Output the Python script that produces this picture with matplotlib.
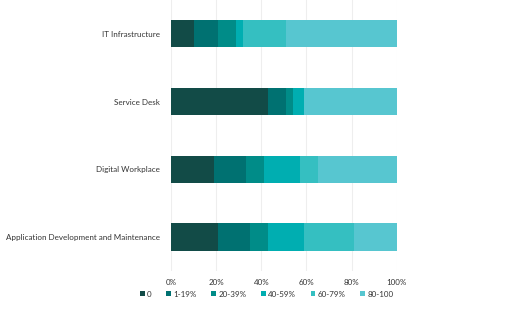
import matplotlib
matplotlib.use('Agg')
import matplotlib.pyplot as plt
import matplotlib.transforms as mtransforms
import numpy as np

# Share of respondents per band (%), one list per band
categories = ['IT Infrastructure', 'Service Desk', 'Digital Workplace',
              'Application Development and Maintenance']
bands = ['0', '1-19%', '20-39%', '40-59%', '60-79%', '80-100']
band_0 = [10, 43, 19, 21]
band_1_19 = [11, 8, 14, 14]
band_20_39 = [8, 3, 8, 8]
band_40_59 = [3, 5, 16, 16]
band_60_79 = [19, 0, 8, 22]
band_80_100 = [49, 41, 35, 19]
x_ticks = [0, 20, 40, 60, 80, 100]

colors = ['#124b47', '#007171', '#008c88', '#00aeb1', '#35bfc1', '#57c6d0']

plt.rcParams['font.family'] = ['Lato', 'DejaVu Sans']
fs = 5.8

fig = plt.figure(figsize=(5.12, 3.26), dpi=100, facecolor='white')
ax = fig.add_axes([0.334, 0.169, 0.441, 0.831])

series = [band_0, band_1_19, band_20_39, band_40_59, band_60_79, band_80_100]
y = np.arange(len(categories))
left = np.zeros(len(categories))
for vals, col, lab in zip(series, colors, bands):
    vals = np.array(vals, dtype=float)
    ax.barh(y, vals, left=left, height=0.4, color=col, label=lab,
            edgecolor='none', zorder=3)
    left += vals

ax.set_ylim(len(categories) - 0.5, -0.5)
ax.set_xlim(0, 100)
ax.set_yticks(y)
ax.set_yticklabels(categories, fontsize=fs, color='#333333')
ax.set_xticks(x_ticks)
ax.set_xticklabels([f'{t}%' for t in x_ticks], fontsize=fs, color='#333333')
offset = mtransforms.ScaledTranslation(4 / 100, 0, fig.dpi_scale_trans)
for lbl in ax.get_xticklabels():
    lbl.set_transform(lbl.get_transform() + offset)
ax.tick_params(axis='both', length=0)
ax.tick_params(axis='y', pad=8)
ax.tick_params(axis='x', pad=6)

ax.grid(axis='x', color='#eeeeee', linewidth=0.8, zorder=0)
for s in ax.spines.values():
    s.set_visible(False)

fig.legend(loc='center left', bbox_to_anchor=(0.259, 0.098), ncol=6,
           frameon=False, fontsize=fs, handlelength=0.6, handleheight=0.6,
           handletextpad=0.3, columnspacing=1.8, labelcolor='#333333')

fig.savefig('out.png', dpi=100, facecolor='white')
